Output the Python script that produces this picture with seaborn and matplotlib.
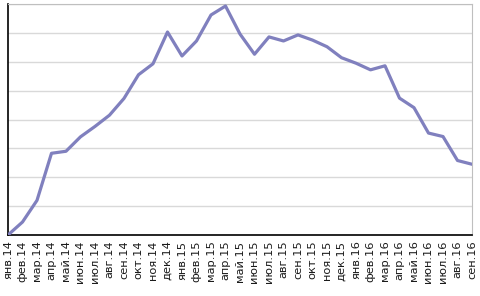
import matplotlib
matplotlib.use('Agg')
import matplotlib.pyplot as plt
import numpy             as np
import pandas            as pd
import seaborn           as sns

# Месяцы по оси X
months = ['янв.14', 'фев.14', 'мар.14', 'апр.14', 'май.14', 'июн.14', 'июл.14',
          'авг.14', 'сен.14', 'окт.14', 'ноя.14', 'дек.14',
          'янв.15', 'фев.15', 'мар.15', 'апр.15', 'май.15', 'июн.15', 'июл.15',
          'авг.15', 'сен.15', 'окт.15', 'ноя.15', 'дек.15',
          'янв.16', 'фев.16', 'мар.16', 'апр.16', 'май.16', 'июн.16', 'июл.16',
          'авг.16', 'сен.16']

# Значения (оценка по картинке)
values = [0, 4.5, 12, 28.3, 29, 34, 37.6, 41.5, 47.3, 55.5, 59.3, 70.3,
          62, 67.2, 76.2, 79.3, 69.6, 62.6, 68.6, 67.2, 69.3, 67.5, 65.2, 61.4,
          59.5, 57.2, 58.6, 47.4, 44.1, 35.3, 34.1, 25.8, 24.5]

data = pd.DataFrame({'pos': np.arange(len(months)), 'value': values})

sns.set_style('white')
plt.rcParams['font.family'] = ['DejaVu Sans']

fig = plt.figure(figsize = (4.81, 2.96), dpi = 100)
ax  = fig.add_axes([8 / 481, 61 / 296, 464 / 481, 231 / 296])

sns.lineplot(data = data, x = 'pos', y = 'value', ax = ax,
             color = '#8080BE', linewidth = 2.3, zorder = 3)

ax.set_xlim(0, len(months) - 1)
ax.set_ylim(0, 80)
ax.set_yticks(np.arange(0, 81, 10))
ax.yaxis.grid(True, color = '#D9D9D9', linewidth = 1)
ax.set_yticklabels([])
ax.set_xticks(data.pos)
ax.set_xticklabels(months, rotation = 90, fontsize = 8.2, color = '#1A1A1A')
ax.tick_params(axis = 'x', length = 0, pad = 4)
ax.tick_params(axis = 'y', length = 0)
ax.set_xlabel('')
ax.set_ylabel('')

for side in ['top', 'right']:
    ax.spines[side].set_color('#BFBFBF')
for side in ['left', 'bottom']:
    ax.spines[side].set_color('black')
    ax.spines[side].set_linewidth(1.2)

fig.savefig('out.png', dpi = 100)
